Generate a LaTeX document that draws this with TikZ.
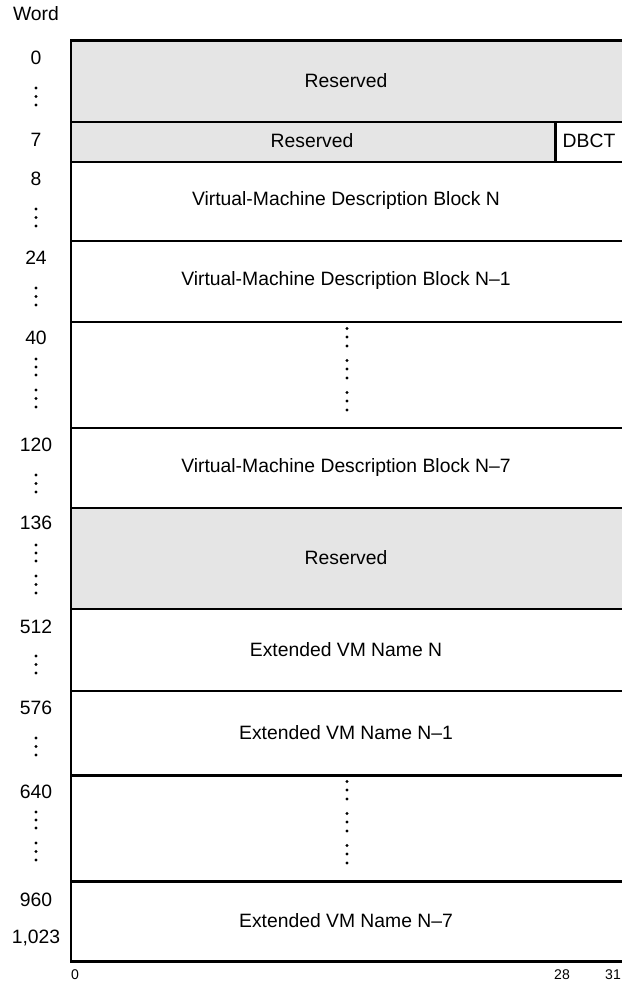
\documentclass[tikz,border=0pt]{standalone}
\usepackage{fontspec}
\setmainfont{Liberation Sans}
\definecolor{rsvgray}{RGB}{229,229,229}
\usetikzlibrary{positioning}

\begin{document}
\begin{tikzpicture}[x=0.02cm,y=-0.02cm,
    every node/.style={font=\fontsize{11}{13}\selectfont,inner sep=0pt},
    frameline/.style={line width=1.7pt},
    bitlbl/.style={font=\fontsize{8}{9}\selectfont}]
  \useasboundingbox (0,0) rectangle (622,982);

  %% Shaded (reserved) areas
  \fill[rsvgray] (71,41) rectangle (622,122);
  \fill[rsvgray] (71,122) rectangle (555,162);
  \fill[rsvgray] (71,508) rectangle (622,609);

  %% Frame and row boundaries
  \draw[frameline] (622,41) -- (71,41) -- (71,961) -- (622,961);
  \foreach \y in {122,162,241,322,428,508,609,691,775,881}
    \draw[frameline] (71,\y) -- (622,\y);
  \draw[frameline] (555,122) -- (555,162);

  %% Field texts
  \node (rsvtop) at (346,81) {Reserved};
  \node (rsvlow) at (312,141) {Reserved};
  \node (dbct) at (589,141) {DBCT};
  \foreach \name/\y/\txt in {vmdn/201/Virtual-Machine Description Block N,
                             vmdna/281/Virtual-Machine Description Block N–1,
                             vmdnb/468/Virtual-Machine Description Block N–7,
                             rsvmid/558/Reserved,
                             xvmn/650/Extended VM Name N,
                             xvmna/733/Extended VM Name N–1,
                             xvmnb/921/Extended VM Name N–7}
    \node (\name) at (346,\y) {\txt};

  %% Elided rows
  \foreach \t in {322,775}
    \foreach \d in {6.5,15,24,38.5,47,56,70.5,79,88}
      \fill (347,\t+\d) circle (0.9pt);

  %% Word offsets
  \node (word) at (36,14) {Word};
  \foreach \lbl/\y in {0/58,7/140,8/179,24/258,40/338,120/445,136/523,
                       512/627,576/708,640/792,960/900}
    \node (w\lbl) at (36,\y) {\lbl};
  \node (w1023) at (36,938) {1,023};
  \foreach \t in {41,162,241,428,609,691}
    \foreach \d in {47,55.5,64}
      \fill (36,\t+\d) circle (0.9pt);
  \foreach \t in {322,508,775}
    \foreach \d in {37,45,53,68,76.5,85}
      \fill (36,\t+\d) circle (0.9pt);

  %% Bit numbers
  \node[bitlbl] (bit0) at (75,975) {0};
  \node[bitlbl] (bit28) at (562,975) {28};
  \node[bitlbl] (bit31) at (613,975) {31};
\end{tikzpicture}
\end{document}
